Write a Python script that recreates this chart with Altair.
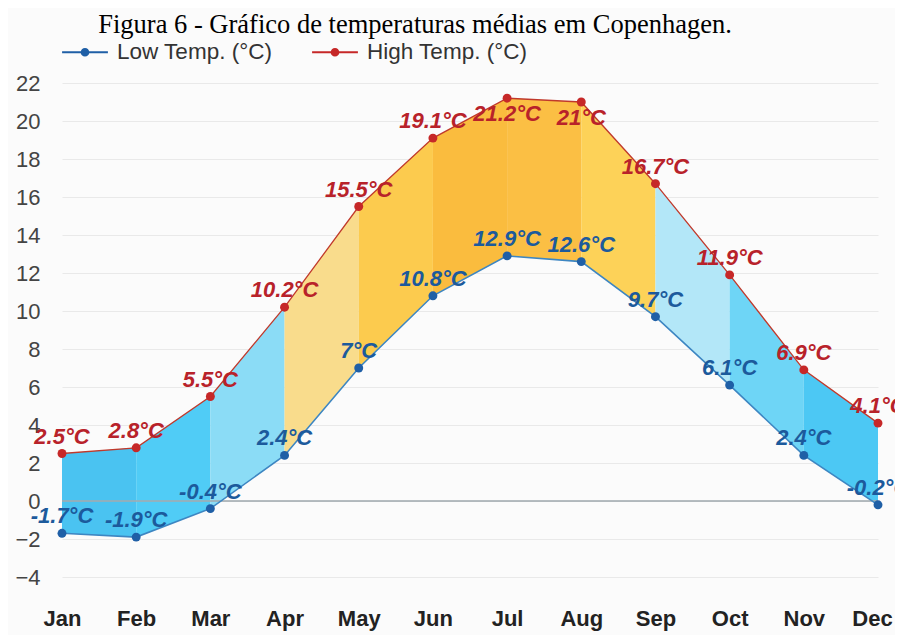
import altair as alt
import pandas as pd

months = ["Jan", "Feb", "Mar", "Apr", "May", "Jun", "Jul", "Aug", "Sep", "Oct", "Nov", "Dec"]
low = [-1.7, -1.9, -0.4, 2.4, 7, 10.8, 12.9, 12.6, 9.7, 6.1, 2.4, -0.2]
high = [2.5, 2.8, 5.5, 10.2, 15.5, 19.1, 21.2, 21, 16.7, 11.9, 6.9, 4.1]
band_colors = ["#4AC3F1", "#50CCF6", "#8BDCF6", "#F9DC8C", "#FCCB4E", "#FABC3E",
               "#FBBF44", "#FDD258", "#B3E7F8", "#6ED5F6", "#4CC8F4"]
series_names = ["Low Temp. (°C)", "High Temp. (°C)"]
below_months = ["Jul", "Aug"]
y_ticks = list(range(-4, 23, 2))
title_text = "Figura 6 - Gráfico de temperaturas médias em Copenhagen."

wide = pd.DataFrame({"month": months, "low": low, "high": high})
seg_rows = []
for i in range(len(months) - 1):
    for j in (i, i + 1):
        seg_rows.append({"seg": i, "month": months[j], "low": low[j], "high": high[j]})
seg = pd.DataFrame(seg_rows)
long = pd.DataFrame({
    "month": months + months,
    "series": [series_names[0]] * len(months) + [series_names[1]] * len(months),
    "value": low + high,
})

FONT = "Liberation Sans"
x = alt.X("month:O", sort=months, title=None,
          scale=alt.Scale(type="point", padding=0),
          axis=alt.Axis(labelAngle=0, labelFont=FONT, labelFontSize=22, labelFontWeight="bold",
                        labelColor="#222222", ticks=False, domain=False, grid=False,
                        labelPadding=12,
                        labelOffset=alt.condition("datum.value == 'Dec'", alt.value(-6), alt.value(0))))
yscale = alt.Scale(domain=[-5, 23], nice=False, zero=False)
yaxis = alt.Axis(values=y_ticks, labelFont=FONT, labelFontSize=22, labelColor="#444444",
                 ticks=False, domain=False, grid=True, gridColor="#e9e9e9", gridWidth=1.2,
                 labelPadding=22, title=None)

areas = alt.Chart(seg).mark_area(opacity=1, interpolate="linear").encode(
    x=x,
    y=alt.Y("high:Q", scale=yscale, axis=yaxis),
    y2="low:Q",
    color=alt.Color("seg:N", scale=alt.Scale(domain=list(range(len(band_colors))), range=band_colors),
                    legend=None),
    detail="seg:N",
)

zero_under = alt.Chart(pd.DataFrame({"z": [0]})).mark_rule(color="#b3b3b3", strokeWidth=1.5).encode(
    y=alt.Y("z:Q", scale=yscale))
zero_over = alt.Chart(pd.DataFrame({"z": [0]})).mark_rule(color="#6a8fa8", strokeWidth=1.2, opacity=0.35).encode(
    y=alt.Y("z:Q", scale=yscale))

line_high = alt.Chart(wide).mark_line(color="#c0392b", strokeWidth=1.3).encode(
    x=x, y=alt.Y("high:Q", scale=yscale))
line_low = alt.Chart(wide).mark_line(color="#3d86c2", strokeWidth=1.6).encode(
    x=x, y=alt.Y("low:Q", scale=yscale))

legend_path = ("M-1,-0.04H1V0.04H-1Z "
               "M-0.19,0A0.19,0.19,0,1,1,0.19,0A0.19,0.19,0,1,1,-0.19,0Z")
points = alt.Chart(long).mark_point(filled=True, size=80, opacity=1).encode(
    x=x,
    y=alt.Y("value:Q", scale=yscale),
    color=alt.Color("series:N",
                    scale=alt.Scale(domain=series_names, range=["#1f5fa6", "#c62828"]),
                    legend=alt.Legend(orient="none", legendX=0, legendY=-35, direction="horizontal",
                                      title=None, symbolType=legend_path, symbolSize=2100,
                                      symbolStrokeWidth=0, labelFont=FONT, labelFontSize=22.5,
                                      labelColor="#333333", columnPadding=39, labelOffset=9,
                                      labelLimit=400, symbolOpacity=1)),
)

txt_style = dict(font=FONT, fontSize=22, fontWeight="bold", fontStyle="italic")
labels_low = alt.Chart(wide).transform_calculate(lab="datum.low + '°C'").mark_text(
    color="#1c5a9c", baseline="alphabetic", dy=-10, **txt_style).encode(
    x=x, y=alt.Y("low:Q", scale=yscale), text="lab:N")
labels_high_above = alt.Chart(wide).transform_calculate(lab="datum.high + '°C'").transform_filter(
    "indexof(" + str(below_months).replace("'", '"') + ", datum.month) < 0").mark_text(
    color="#b8222a", baseline="alphabetic", dy=-10, **txt_style).encode(
    x=x, y=alt.Y("high:Q", scale=yscale), text="lab:N")
labels_high_below = alt.Chart(wide).transform_calculate(lab="datum.high + '°C'").transform_filter(
    alt.FieldOneOfPredicate(field="month", oneOf=below_months)).mark_text(
    color="#b8222a", baseline="top", dy=6, **txt_style).encode(
    x=x, y=alt.Y("high:Q", scale=yscale), text="lab:N")

chart = alt.layer(
    areas, zero_under, zero_over, line_high, line_low, points,
    labels_low, labels_high_above, labels_high_below,
).resolve_scale(color="independent").properties(
    width=816, height=532,
    autosize=alt.AutoSizeParams(type="none"),
    padding={"left": 54, "top": 56, "right": 17, "bottom": 39},
    background="#fbfbfb",
    title=alt.TitleParams(title_text, font="Liberation Serif", fontSize=26.5, fontWeight="normal",
                          color="#000000", anchor="middle", dx=-55, dy=9, offset=0),
).configure_view(stroke=None)

chart.save("out.html", embed_options={"renderer": "svg", "actions": False})
